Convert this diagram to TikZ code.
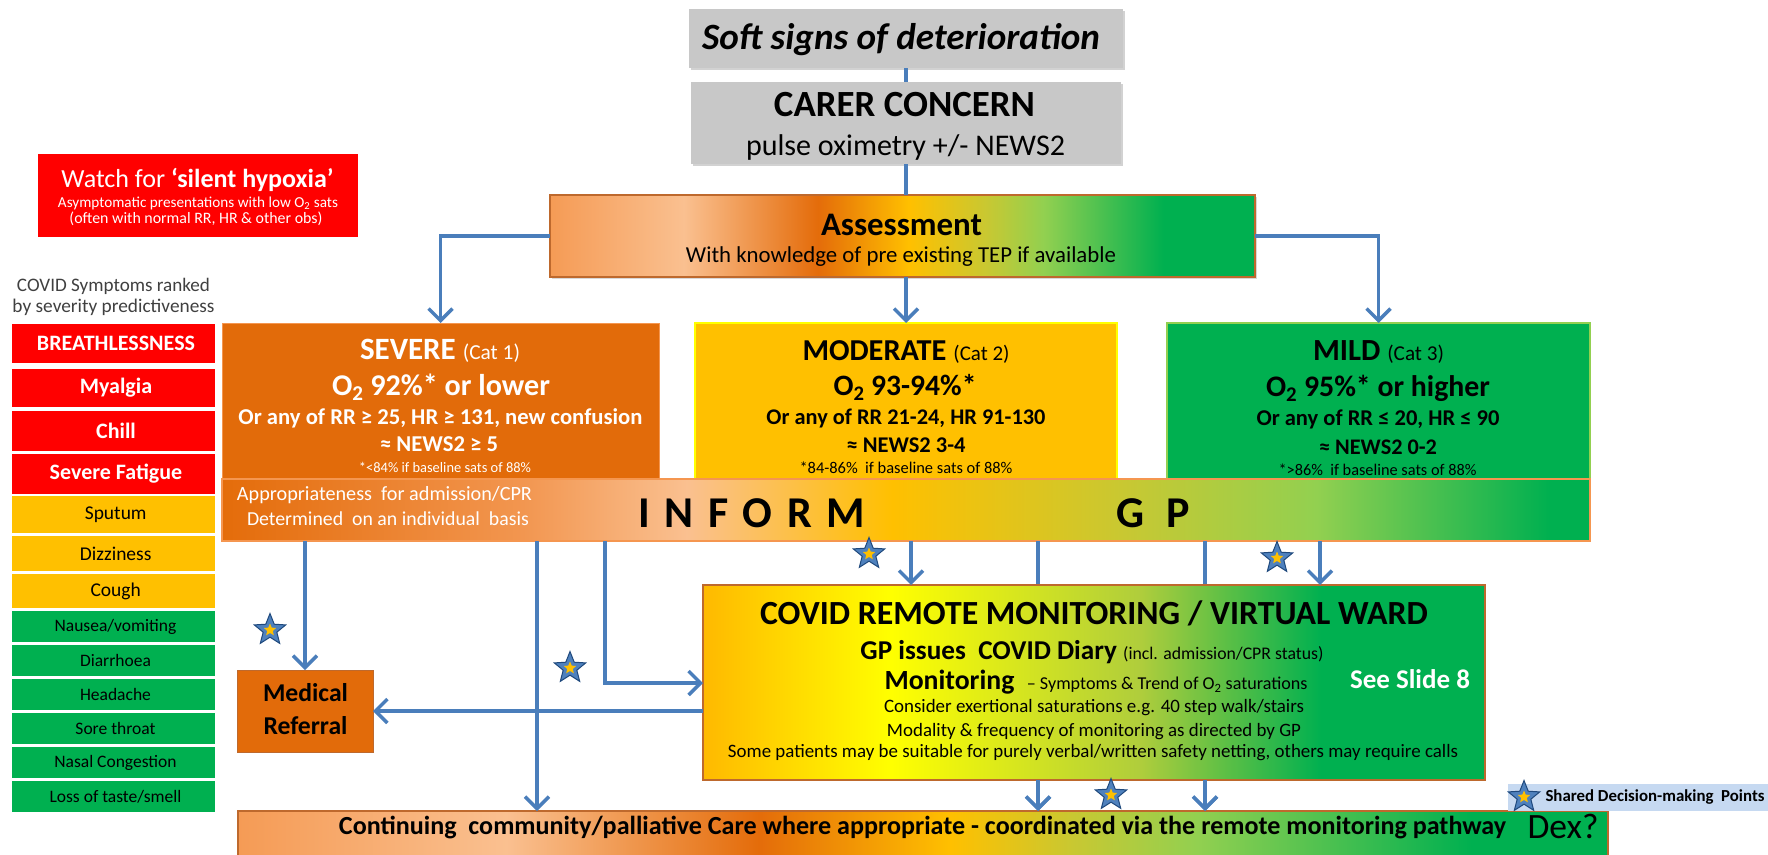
\documentclass[tikz,border=0pt]{standalone}
\usepackage{fontspec}
\setmainfont{Carlito}
\usepackage{graphicx}
\usetikzlibrary{shapes.geometric,arrows.meta,shadows}

\definecolor{arrowblue}{RGB}{74,126,187}
\definecolor{boxgray}{RGB}{200,200,200}
\definecolor{sA0}{RGB}{245,155,85}
\definecolor{sPeach}{RGB}{250,192,144}
\definecolor{sDkOr}{RGB}{228,108,10}
\definecolor{sYO}{RGB}{255,192,0}
\definecolor{sOlive}{RGB}{200,200,50}
\definecolor{sLG}{RGB}{146,208,80}
\definecolor{sG}{RGB}{0,176,80}
\definecolor{sLO}{RGB}{242,150,80}
\definecolor{sYel}{RGB}{255,255,0}
\definecolor{sYG}{RGB}{175,205,60}
\definecolor{sRO}{RGB}{255,185,0}
\definecolor{sevfill}{RGB}{226,107,10}
\definecolor{sevline}{RGB}{245,150,80}
\definecolor{brownline}{RGB}{190,105,45}
\definecolor{symred}{RGB}{255,0,0}
\definecolor{legblue}{RGB}{198,217,241}
\definecolor{starblue}{RGB}{79,129,189}
\definecolor{stardk}{RGB}{31,73,125}
\definecolor{captgray}{RGB}{64,64,64}

\pgfdeclarehorizontalshading{assessS}{100bp}{color(0bp)=(sA0); color(25bp)=(sA0); color(34.5bp)=(sPeach); color(44bp)=(sDkOr); color(50.5bp)=(sYO); color(56bp)=(sOlive); color(60bp)=(sLG); color(68.5bp)=(sG); color(100bp)=(sG)}
\pgfdeclarehorizontalshading{informS}{100bp}{color(0bp)=(sDkOr); color(25bp)=(sDkOr); color(36bp)=(sLO); color(42bp)=(sPeach); color(49.5bp)=(sYO); color(58bp)=(sOlive); color(65bp)=(sLG); color(73.5bp)=(sG); color(100bp)=(sG)}
\pgfdeclarehorizontalshading{remoteS}{100bp}{color(0bp)=(sRO); color(25bp)=(sRO); color(37bp)=(sYel); color(53bp)=(sYG); color(64.5bp)=(sG); color(100bp)=(sG)}
\pgfdeclarehorizontalshading{bottomS}{100bp}{color(0bp)=(sA0); color(25bp)=(sA0); color(34.8bp)=(sPeach); color(44bp)=(sDkOr); color(51bp)=(sYO); color(55.5bp)=(sOlive); color(60bp)=(sLG); color(70bp)=(sG); color(100bp)=(sG)}

\newcommand\fitw[2]{\resizebox{#1pt}{!}{#2}}
\newcommand\fsz[1]{\fontsize{#1}{#1}\selectfont}

\tikzset{
  tx/.style={inner sep=0, outer sep=0, anchor=center},
  bx/.style={inner sep=0, outer sep=0},
  gbox/.style={bx, fill=boxgray, drop shadow={shadow xshift=2pt, shadow yshift=-2pt, opacity=0.35}},
  symbox/.style={bx, draw=white, line width=1.2pt, minimum width=205},
  ln/.style={draw=arrowblue, line width=3.5pt},
  arr/.style={ln, -{Straight Barb[length=12pt,width=24pt,line width=3.5pt]}},
  sdmo/.style={star, star points=5, star point ratio=2.3, minimum size=33pt, inner sep=0, fill=starblue, draw=stardk, line width=1pt},
  sdmi/.style={star, star points=5, star point ratio=2.2, minimum size=13pt, inner sep=0, fill=sYO, draw=none},
  sdm/.pic={\node[sdmo] (-o) at (0,0) {}; \node[sdmi] (-i) at (0,0) {};},
}

\newcommand\symrow[7]{%
  \node[symbox, fill=#4, minimum height=#3] (#1) at (113.5,#2) {};
  \node[tx, text=#5] (#1-t) at (#1) {#6 #7};
}

\begin{document}
\begin{tikzpicture}[x=1pt,y=-1pt]
\useasboundingbox (0,0) rectangle (1768,854);
\fill[white] (0,0) rectangle (1768,854);

% top grey boxes
\node[gbox, minimum width=434, minimum height=59] (soft) at (906,38.5) {};
\node[tx] (soft-t) at (901,40) {\fitw{398}{\fsz{30}\bfseries\itshape Soft signs of deterioration}};
\node[gbox, minimum width=430, minimum height=82] (carer) at (906,123) {};
\node[tx] (carer-t1) at (904.5,105) {\fitw{261}{\fsz{30}\bfseries CARER CONCERN}};
\node[tx] (carer-t2) at (905.5,147) {\fitw{319}{\fsz{24}pulse oximetry +/- NEWS2}};

% assessment
\node[bx, shading=assessS, draw=brownline, line width=1.5pt, minimum width=705, minimum height=82,
      drop shadow={shadow xshift=2pt, shadow yshift=-2pt, opacity=0.3}] (assess) at (902.5,236) {};
\node[tx] (assess-t1) at (901.5,225) {\fitw{161}{\fsz{30}\bfseries Assessment}};
\node[tx] (assess-t2) at (901,257) {\fitw{430}{\fsz{20}With knowledge of pre existing TEP if available}};

\draw[ln] (soft.south) -- (soft.south |- carer.north);
\draw[ln] (carer.south) -- (carer.south |- assess.north);

% category boxes
\node[bx, fill=sevfill, draw=sevline, line width=1pt, minimum width=437, minimum height=156] (severe) at (440.5,401) {};
\node[bx, fill=sYO, draw=sYel, line width=2pt, minimum width=422, minimum height=156] (moderate) at (906,401) {};
\node[bx, fill=sG, draw=sLG, line width=2pt, minimum width=423, minimum height=156] (mild) at (1378.5,401) {};

\draw[arr] (assess.west) -| (severe.north);
\draw[arr] (assess.south -| moderate.north) -- (moderate.north);
\draw[arr] (assess.east) -| (mild.north);

\begin{scope}[every node/.style={tx, text=white}]
\node (sev-1) at (440,351) {\fitw{160}{\fsz{29}\bfseries SEVERE \fsz{20}\mdseries(Cat 1)}};
\node (sev-2) at (441,387) {\fitw{218}{\fsz{29}\bfseries O\textsubscript{2} 92\%* or lower}};
\node (sev-3) at (440.5,418) {\fitw{404}{\fsz{20}\bfseries Or any of RR ≥ 25, HR ≥ 131, new confusion}};
\node (sev-4) at (439,444) {\fitw{118}{\fsz{20}\bfseries ≈ NEWS2 ≥ 5}};
\node (sev-5) at (445,467) {\fitw{172}{\fsz{12}*<84\% if baseline sats of 88\%}};
\end{scope}
\begin{scope}[every node/.style={tx, text=black}]
\node (mod-1) at (906,352) {\fitw{207}{\fsz{29}\bfseries MODERATE \fsz{20}\mdseries(Cat 2)}};
\node (mod-2) at (905,387) {\fitw{143}{\fsz{29}\bfseries O\textsubscript{2} 93-94\%*}};
\node (mod-3) at (906,418) {\fitw{279}{\fsz{20}\bfseries Or any of RR 21-24, HR 91-130}};
\node (mod-4) at (906,445) {\fitw{119}{\fsz{20}\bfseries ≈ NEWS2 3-4}};
\node (mod-5) at (906,468) {\fitw{213}{\fsz{12}*84-86\%\ \ if baseline sats of 88\%}};
\node (mild-1) at (1378.5,352) {\fitw{131}{\fsz{29}\bfseries MILD \fsz{20}\mdseries(Cat 3)}};
\node (mild-2) at (1378,388) {\fitw{224}{\fsz{29}\bfseries O\textsubscript{2} 95\%* or higher}};
\node (mild-3) at (1378,419) {\fitw{243}{\fsz{20}\bfseries Or any of RR ≤ 20, HR ≤ 90}};
\node (mild-4) at (1378,447) {\fitw{118}{\fsz{20}\bfseries ≈ NEWS2 0-2}};
\node (mild-5) at (1377.5,470) {\fitw{198}{\fsz{12}*>86\%\ \ if baseline sats of 88\%}};
\end{scope}

% inform bar
\node[bx, shading=informS, draw=sevline, line width=2pt, minimum width=1368, minimum height=62] (inform) at (906,510) {};
\node[tx, anchor=east, text=white] (appr-1) at (532,495) {\fitw{295}{\fsz{18}Appropriateness\ \ for admission/CPR}};
\node[tx, anchor=east, text=white] (appr-2) at (529,519) {\fitw{282}{\fsz{18}Determined\ \ on an individual\ \ basis}};
\node[tx] (inf-a) at (751.5,513) {\fsz{44}\bfseries I\hspace{0.33em}N\hspace{0.33em}F\hspace{0.33em}O\hspace{0.33em}R\hspace{0.33em}M};
\node[tx] (inf-b) at (1153,513) {\fsz{44}\bfseries G\hspace{0.5em}P};

% bottom bar
\node[bx, shading=bottomS, draw=brownline, line width=2pt, minimum width=1370, minimum height=50] (bottom) at (923,836) {};
\node[tx] (bottom-t) at (922.5,828) {\fitw{1167}{\fsz{22}\bfseries Continuing\ \ community/palliative Care where appropriate - coordinated via the remote monitoring pathway}};
\node[tx] (dex) at (1563,826) {\fitw{71}{\fsz{27}Dex?}};

\coordinate (x537) at (537,0);
\coordinate (x911) at (911,0);
\coordinate (x1038) at (1038,0);
\coordinate (x1205) at (1205,0);
\coordinate (x1320) at (1320,0);
\coordinate (k605) at (605,683);

\draw[arr] (inform.south -| x1038) -- (bottom.north -| x1038);
\draw[arr] (inform.south -| x1205) -- (bottom.north -| x1205);

% remote monitoring
\node[bx, shading=remoteS, draw=brownline, line width=1.5pt, minimum width=782, minimum height=195] (remote) at (1094,682.5) {};
\node[tx] (rm-1) at (1094,613) {\fitw{668}{\fsz{31}\bfseries COVID REMOTE MONITORING / VIRTUAL WARD}};
\node[tx] (rm-2) at (1092,652) {\fitw{463}{\fsz{23}\bfseries GP issues\ \ COVID Diary \fsz{15}\mdseries(incl. admission/CPR status)}};
\node[tx] (rm-3) at (1096,682) {\fitw{423}{\fsz{23}\bfseries Monitoring\ \ \fsz{15}\mdseries -- Symptoms \& Trend of O\textsubscript{2} saturations}};
\node[tx] (rm-4) at (1094,708) {\fitw{420}{\fsz{17}Consider exertional saturations e.g. 40 step walk/stairs}};
\node[tx] (rm-5) at (1094,732) {\fitw{414}{\fsz{17}Modality \& frequency of monitoring as directed by GP}};
\node[tx] (rm-6) at (1093,753) {\fitw{730}{\fsz{17}Some patients may be suitable for purely verbal/written safety netting, others may require calls}};
\node[tx, text=white] (rm-7) at (1410,679) {\fitw{120}{\fsz{23}\bfseries See Slide 8}};

% medical referral
\node[bx, fill=sevfill, draw=brownline, line width=1pt, minimum width=136, minimum height=82] (medref) at (305,711) {};
\node[tx] (medref-1) at (305.5,693) {\fitw{85}{\fsz{24}\bfseries Medical}};
\node[tx] (medref-2) at (305.5,726) {\fitw{84}{\fsz{24}\bfseries Referral}};

% connectors from inform
\draw[arr] (inform.south -| medref.north) -- (medref.north);
\draw[arr] (inform.south -| x537) -- (bottom.north -| x537);
\draw[arr] (inform.south -| k605) |- (remote.west |- k605);
\draw[arr] (remote.west |- medref.east) -- (medref.east);
\draw[arr] (inform.south -| x911) -- (remote.north -| x911);
\draw[arr] (inform.south -| x1320) -- (remote.north -| x1320);
\draw[arr] (remote.south -| x1038) -- (bottom.north -| x1038);
\draw[arr] (remote.south -| x1205) -- (bottom.north -| x1205);

% stars
\pic (st1) at (270,630) {sdm};
\pic (st2) at (570,668) {sdm};
\pic (st3) at (869,554) {sdm};
\pic (st4) at (1277,558) {sdm};
\pic (st5) at (1111,795) {sdm};

% legend
\node[bx, fill=legblue, minimum width=260, minimum height=27] (legend) at (1638,797) {};
\pic (st6) at (1524,797) {sdm};
\node[tx] (legend-t) at (1655,797) {\fitw{219}{\fsz{14}\bfseries Shared Decision-making\ \ Points}};

% silent hypoxia
\node[bx, fill=symred, minimum width=320, minimum height=83] (watch) at (198,195.5) {};
\node[tx, text=white] (watch-1) at (197.5,180) {\fitw{272}{\fsz{22}Watch for \bfseries ‘silent hypoxia’}};
\node[tx, text=white] (watch-2) at (198,203) {\fitw{280}{\fsz{13}Asymptomatic presentations with low O\textsubscript{2} sats}};
\node[tx, text=white] (watch-3) at (196,219) {\fitw{253}{\fsz{13}(often with normal RR, HR \& other obs)}};

% symptoms
\node[tx, text=captgray] (cap-1) at (113.5,286) {\fitw{193}{\fsz{17}COVID Symptoms ranked}};
\node[tx, text=captgray] (cap-2) at (113.5,307) {\fitw{202}{\fsz{17}by severity predictiveness}};
\symrow{sy1}{343.5}{41}{symred}{white}{\fsz{22}\bfseries}{BREATHLESSNESS}
\symrow{sy2}{388}{40}{symred}{white}{\fsz{22}\bfseries}{Myalgia}
\symrow{sy3}{431}{41}{symred}{white}{\fsz{22}\bfseries}{Chill}
\symrow{sy4}{474}{41}{symred}{white}{\fsz{22}\bfseries}{Severe Fatigue}
\symrow{sy5}{514.5}{38}{sYO}{black}{\fsz{19.5}}{Sputum}
\symrow{sy6}{553.5}{37}{sYO}{black}{\fsz{19.5}}{Dizziness}
\symrow{sy7}{591}{36}{sYO}{black}{\fsz{19.5}}{Cough}
\symrow{sy8}{626.5}{33}{sG}{black}{\fsz{17.5}}{Nausea/vomiting}
\symrow{sy9}{660.5}{33}{sG}{black}{\fsz{17.5}}{Diarrhoea}
\symrow{sy10}{694.5}{33}{sG}{black}{\fsz{17.5}}{Headache}
\symrow{sy11}{728.5}{33}{sG}{black}{\fsz{17.5}}{Sore throat}
\symrow{sy12}{762.5}{33}{sG}{black}{\fsz{17.5}}{Nasal Congestion}
\symrow{sy13}{796.5}{33}{sG}{black}{\fsz{17.5}}{Loss of taste/smell}
\end{tikzpicture}
\end{document}
